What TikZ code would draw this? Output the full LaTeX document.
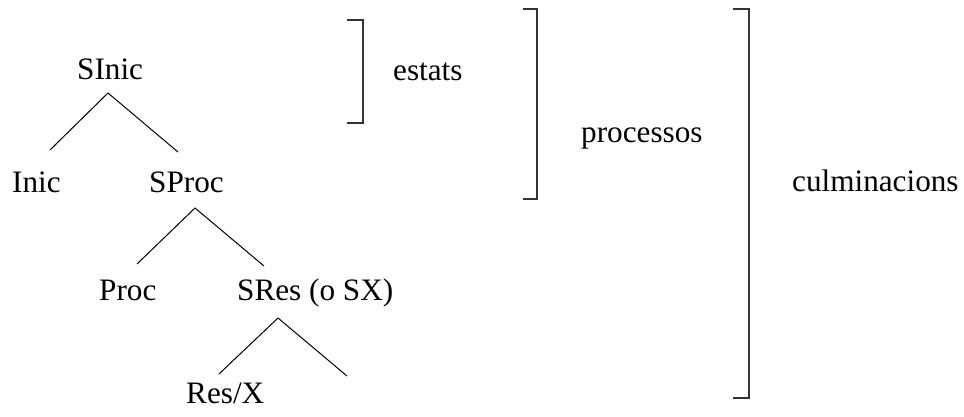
\documentclass[tikz,border=0pt]{standalone}
\usepackage{fontspec}
\setmainfont{Liberation Serif}
\begin{document}
\begin{tikzpicture}[x=1pt,y=-1pt,
  lbl/.style={anchor=base west,inner sep=0pt,font=\fontsize{31.2}{36}\selectfont},
  branch/.style={line width=1pt},
  brk/.style={line width=1.3pt,color=black!80}]
\useasboundingbox (0,0) rectangle (964,416);
% tree labels
\node[lbl] (sinic) at (77,79) {SInic};
\node[lbl] (inic) at (12,192) {Inic};
\node[lbl] (sproc) at (149,192) {SProc};
\node[lbl] (proc) at (99,300) {Proc};
\node[lbl] (sres) at (237,300) {SRes (o SX)};
\node[lbl] (resx) at (186,403) {Res/X};
% branch end points
\coordinate (sinicA) at (108,93);
\coordinate (sinicL) at (50,150);
\coordinate (sinicR) at (178,152);
\coordinate (sprocA) at (195,208);
\coordinate (sprocL) at (137,264);
\coordinate (sprocR) at (264,266);
\coordinate (sresA) at (278,318);
\coordinate (sresL) at (219,374);
\coordinate (sresR) at (347,376);
\draw[branch] (sinicL) -- (sinicA) -- (sinicR);
\draw[branch] (sprocL) -- (sprocA) -- (sprocR);
\draw[branch] (sresL) -- (sresA) -- (sresR);
% brackets and their labels
\node[lbl] (estats) at (393,80) {estats};
\node[lbl] (processos) at (581,142) {processos};
\node[lbl] (culm) at (792,191) {culminacions};
\coordinate (b1t) at (347,20);
\coordinate (b1b) at (347,123);
\coordinate (b2t) at (523,9);
\coordinate (b2b) at (523,199);
\coordinate (b3t) at (733,9);
\coordinate (b3b) at (733,398);
\draw[brk] (b1t) -- ++(16,0) |- (b1b);
\draw[brk] (b2t) -- ++(14,0) |- (b2b);
\draw[brk] (b3t) -- ++(16,0) |- (b3b);
\end{tikzpicture}
\end{document}
